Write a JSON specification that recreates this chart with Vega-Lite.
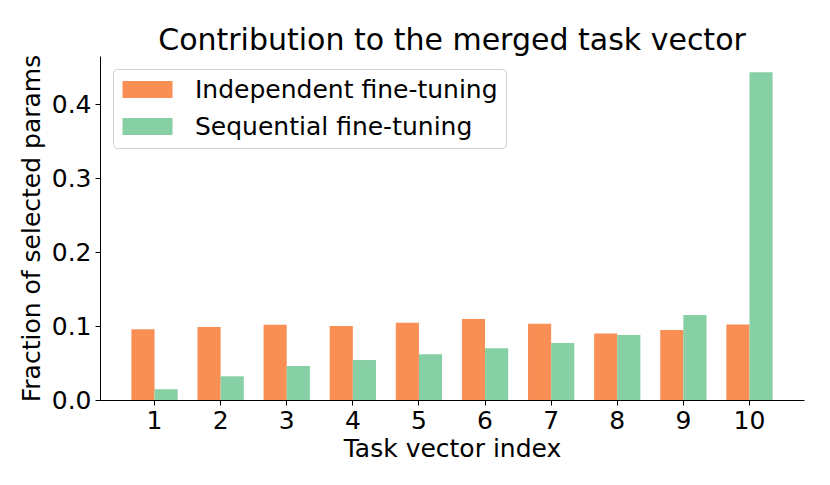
{
  "$schema": "https://vega.github.io/schema/vega-lite/v6.json",
  "autosize": "none",
  "width": 704,
  "height": 344,
  "padding": {"left": 100, "top": 56, "right": 26, "bottom": 85},
  "background": "white",
  "title": {
    "text": "Contribution to the merged task vector",
    "fontSize": 30,
    "font": "DejaVu Sans",
    "fontWeight": "normal",
    "color": "black",
    "anchor": "middle",
    "offset": -2
  },
  "config": {
    "font": "DejaVu Sans",
    "view": {"stroke": null}
  },
  "data": {
    "values": [
      {"task": "1", "method": "Independent fine-tuning", "value": 0.0955},
      {"task": "1", "method": "Sequential fine-tuning", "value": 0.0144},
      {"task": "2", "method": "Independent fine-tuning", "value": 0.0986},
      {"task": "2", "method": "Sequential fine-tuning", "value": 0.032},
      {"task": "3", "method": "Independent fine-tuning", "value": 0.1018},
      {"task": "3", "method": "Sequential fine-tuning", "value": 0.046},
      {"task": "4", "method": "Independent fine-tuning", "value": 0.1},
      {"task": "4", "method": "Sequential fine-tuning", "value": 0.054},
      {"task": "5", "method": "Independent fine-tuning", "value": 0.1045},
      {"task": "5", "method": "Sequential fine-tuning", "value": 0.0617},
      {"task": "6", "method": "Independent fine-tuning", "value": 0.1095},
      {"task": "6", "method": "Sequential fine-tuning", "value": 0.0698},
      {"task": "7", "method": "Independent fine-tuning", "value": 0.1032},
      {"task": "7", "method": "Sequential fine-tuning", "value": 0.077},
      {"task": "8", "method": "Independent fine-tuning", "value": 0.090},
      {"task": "8", "method": "Sequential fine-tuning", "value": 0.0878},
      {"task": "9", "method": "Independent fine-tuning", "value": 0.0946},
      {"task": "9", "method": "Sequential fine-tuning", "value": 0.1149},
      {"task": "10", "method": "Independent fine-tuning", "value": 0.1022},
      {"task": "10", "method": "Sequential fine-tuning", "value": 0.443}
    ]
  },
  "mark": {"type": "bar"},
  "encoding": {
    "x": {
      "field": "task",
      "type": "ordinal",
      "sort": ["1","2","3","4","5","6","7","8","9","10"],
      "scale": {"paddingInner": 0.3, "paddingOuter": 0.475},
      "axis": {
        "title": "Task vector index",
        "titleFontSize": 25,
        "titleFontWeight": "normal",
        "titleColor": "black",
        "titlePadding": 3,
        "labelFontSize": 25,
        "labelColor": "black",
        "labelAngle": 0,
        "labelPadding": 3,
        "tickSize": 5,
        "tickColor": "black",
        "domainColor": "black",
        "domainWidth": 1,
        "grid": false
      }
    },
    "xOffset": {
      "field": "method",
      "type": "nominal",
      "sort": ["Independent fine-tuning", "Sequential fine-tuning"]
    },
    "y": {
      "field": "value",
      "type": "quantitative",
      "scale": {"domain": [0, 0.465], "nice": false, "zero": true},
      "axis": {
        "title": "Fraction of selected params",
        "titleFontSize": 25,
        "titleFontWeight": "normal",
        "titleColor": "black",
        "titlePadding": 7,
        "labelFontSize": 25,
        "labelColor": "black",
        "labelPadding": 4,
        "values": [0, 0.1, 0.2, 0.3, 0.4],
        "format": ".1f",
        "tickSize": 5,
        "tickColor": "black",
        "domainColor": "black",
        "domainWidth": 1,
        "grid": false
      }
    },
    "color": {
      "field": "method",
      "type": "nominal",
      "sort": ["Independent fine-tuning", "Sequential fine-tuning"],
      "scale": {"range": ["#f98f55", "#87cfa5"]},
      "legend": {
        "title": null,
        "orient": "none",
        "legendX": 13,
        "legendY": 13,
        "labelFontSize": 25,
        "labelColor": "black",
        "labelLimit": 0,
        "symbolType": "M-2.78,-0.94H2.78V0.94H-2.78Z",
        "symbolSize": 324,
        "symbolStrokeWidth": 0,
        "symbolOpacity": 1,
        "symbolOffset": 14,
        "labelOffset": 35,
        "rowPadding": 11,
        "padding": 8,
        "fillColor": "white",
        "strokeColor": "#d0d0d0",
        "cornerRadius": 4
      }
    }
  }
}
